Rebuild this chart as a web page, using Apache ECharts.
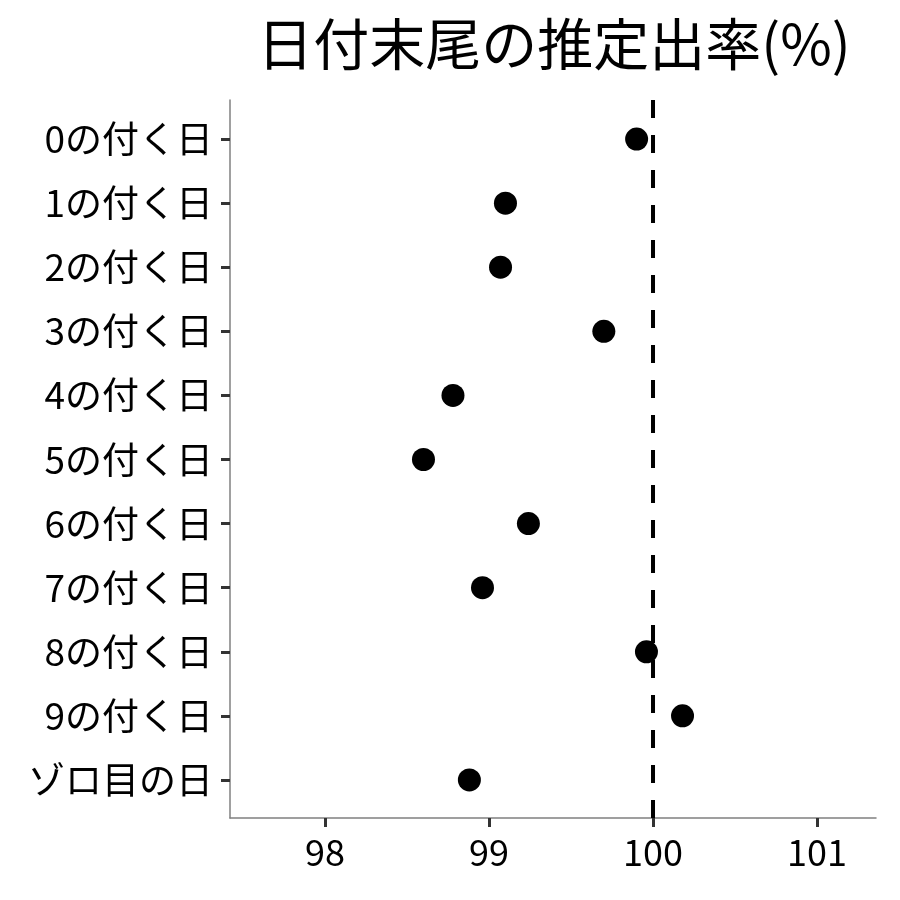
<!DOCTYPE html>
<html>
<head>
<meta charset="utf-8">
<script src="https://cdn.jsdelivr.net/npm/echarts@6/dist/echarts.min.js"></script>
<style>
  html, body { margin: 0; padding: 0; background: #fff; }
  #main { width: 900px; height: 900px; }
</style>
</head>
<body>
<div id="main"></div>
<script>
var categories = ['0の付く日', '1の付く日', '2の付く日', '3の付く日', '4の付く日',
  '5の付く日', '6の付く日', '7の付く日', '8の付く日', '9の付く日', 'ゾロ目の日'];
var rates = [99.90, 99.10, 99.07, 99.70, 98.78, 98.60, 99.24, 98.96, 99.96, 100.18, 98.88];
var xTicks = [98, 99, 100, 101];
var refValue = 100;

var font = '"Noto Sans CJK JP", "Noto Sans", sans-serif';
var xMin = 97.42, xMax = 101.36;

var chart = echarts.init(document.getElementById('main'));

var option = {
  backgroundColor: '#fff',
  animation: false,
  title: {
    text: '日付末尾の推定出率(%)',
    left: 549,
    top: 11,
    textAlign: 'center',
    textStyle: { fontFamily: font, fontSize: 56, fontWeight: 'normal', color: '#000' }
  },
  grid: [
    // frame: axis lines, x ticks and labels, reference line
    { left: 230, right: 24, top: 100, bottom: 82 },
    // points and category labels
    { left: 230, right: 24, top: 107, bottom: 88 }
  ],
  xAxis: [
    {
      gridIndex: 0,
      type: 'value',
      min: xMin,
      max: xMax,
      splitLine: { show: false },
      axisLine: { show: true, lineStyle: { color: '#808080', width: 1.5 } },
      axisTick: { show: true, length: 9, customValues: xTicks,
        lineStyle: { color: '#333', width: 3 } },
      axisLabel: { show: true, customValues: xTicks, margin: 16,
        fontFamily: font, fontSize: 36, color: '#000' }
    },
    {
      gridIndex: 1,
      type: 'value',
      min: xMin,
      max: xMax,
      show: false
    }
  ],
  yAxis: [
    {
      gridIndex: 0,
      type: 'value',
      min: 0,
      max: 1,
      splitLine: { show: false },
      axisLine: { show: true, lineStyle: { color: '#808080', width: 1.5 } },
      axisTick: { show: false },
      axisLabel: { show: false }
    },
    {
      gridIndex: 1,
      type: 'category',
      inverse: true,
      data: categories,
      boundaryGap: true,
      splitLine: { show: false },
      axisLine: { show: false },
      axisTick: { show: true, alignWithLabel: true, length: 9,
        lineStyle: { color: '#333', width: 3 } },
      axisLabel: { margin: 17, fontFamily: font, fontSize: 37, color: '#000' }
    }
  ],
  series: [
    {
      type: 'line',
      xAxisIndex: 0,
      yAxisIndex: 0,
      data: [[refValue, 0], [refValue, 1]],
      symbol: 'none',
      lineStyle: { color: '#000', width: 4, type: [18, 17] },
      z: 1
    },
    {
      type: 'scatter',
      xAxisIndex: 1,
      yAxisIndex: 1,
      data: rates.map(function (v, i) { return [v, categories[i]]; }),
      symbolSize: 23,
      itemStyle: { color: '#000', opacity: 1 },
      z: 2
    }
  ]
};

chart.setOption(option);
</script>
</body>
</html>
